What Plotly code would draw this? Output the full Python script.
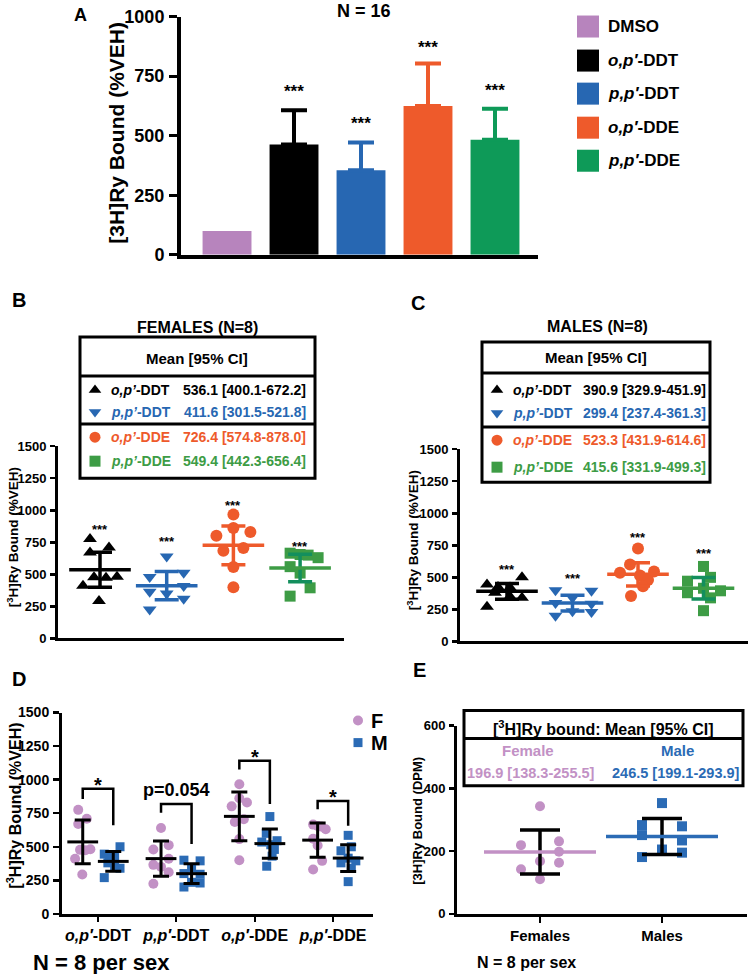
import plotly.graph_objects as go

W, H = 751, 974
FONT = "Liberation Sans, Arial, sans-serif"

# the page is photographed with a slight vertical squeeze; positions below are
# given in reference pixels and mapped to paper fractions here
Y0, SY = 10.5, 0.978


def fx(px):
    return px / W


def fy(py):
    return 1 - ((py - Y0) / SY) / H


# ---------------- colours ----------------
C_DMSO = "#b784bd"
C_BLACK = "#000000"
C_BLUE = "#2767b2"
C_ORANGE = "#ee5a2b"
C_GREEN = "#0e9a58"
C_GREEN2 = "#3d9c45"
C_TEAL = "#138f5d"
C_LAV = "#c291c5"
C_MBLUE = "#2b6bb5"

# ---------------- data ----------------
# Panel A (N = 16)
a_labels = ["DMSO", "<i>o,p′</i>-DDT", "<i>p,p′</i>-DDT", "<i>o,p′</i>-DDE", "<i>p,p′</i>-DDE"]
a_mean = [100, 463.5, 355.5, 624.9, 482.5]
a_sd = [0, 143, 116, 178, 131]
a_star_y = [None, 697, 563, 882, 702]

# compounds
cmp_labels = ["<i>o,p’</i>-DDT", "<i>p,p’</i>-DDT", "<i>o,p’</i>-DDE", "<i>p,p’</i>-DDE"]
cmp_ticks = ["<i>o,p′</i>-DDT", "<i>p,p′</i>-DDT", "<i>o,p′</i>-DDE", "<i>p,p′</i>-DDE"]

# Females (N = 8)
fem_opDDT = [775, 709, 670, 477, 474, 482, 411, 293]
fem_ppDDT = [640, 480, 512, 410, 365, 350, 310, 225]
fem_opDDE = [966, 861, 801, 830, 685, 705, 557, 400]
fem_ppDDE = [665, 655, 650, 630, 560, 510, 395, 330]
fem_mean = [536.1, 411.6, 726.4, 549.4]
fem_lo = [400.1, 301.5, 574.8, 442.3]
fem_hi = [672.2, 521.8, 878.0, 656.4]
fem_sd = [163, 132, 181, 128]
fem_star_y = [871, 777, 1062, 743]

# Males (N = 8)
male_opDDT = [445, 425, 420, 500, 380, 350, 340, 270]
male_ppDDT = [400, 395, 340, 300, 295, 235, 230, 200]
male_opDDE = [725, 600, 535, 545, 515, 480, 430, 355]
male_ppDDE = [585, 500, 470, 415, 395, 380, 340, 240]
male_mean = [390.9, 299.4, 523.3, 415.6]
male_lo = [329.9, 237.4, 431.9, 331.9]
male_hi = [451.9, 361.3, 614.6, 499.3]
male_sd = [73, 74, 109, 100]
male_star_y = [584, 518, 834, 708]

# Panel D brackets
d_br_top = [933, 818, 1141, 840]
d_br_left = [856, 754, 1076, 780]
d_br_right = [660, 520, 818, 656]
d_sig = ["*", "p=0.054", "*", "*"]

# Panel E (DPM)
e_groups = ["Females", "Males"]
e_female = [343, 219, 231, 198, 168, 142, 163, 110]
e_male = [353, 283, 279, 251, 234, 205, 181, 195]
e_mean = [196.9, 246.5]
e_lo = [138.3, 199.1]
e_hi = [255.5, 293.9]
e_sd = [70, 57]

# horizontal scatter of points (pixels, as laid out in the figure)
fem_jit = [[-10, 9, -10, -6, 6, 17, -17, -1],
           [0, -17, 17, 17, -17, 0, 17, -17],
           [0, 0, -17, 17, -10, 10, 0, 0],
           [-10, 0, 8, 18, -10, 0, 10, -10]]
male_jit = [[-20, -9, 3, 15, -12, 3, 15, -20],
            [-17, 19, 0, -17, 19, 0, 19, -17],
            [0, -8, -18, 16, 2, 10, 5, -7],
            [0, 7, -16, 0, 17, -16, 7, 0]]
e_jit = [[0, -19, 19, 19, 0, -19, 19, 0],
         [0, -20, 20, -20, 20, 0, -20, 20]]

fem_groups = [fem_opDDT, fem_ppDDT, fem_opDDE, fem_ppDDE]
male_groups = [male_opDDT, male_ppDDT, male_opDDE, male_ppDDE]

fig = go.Figure()

# ---------------- Panel A ----------------
a_colors = [C_DMSO, C_BLACK, C_BLUE, C_ORANGE, C_GREEN]
for i in range(5):
    fig.add_trace(go.Bar(
        x=[i], y=[a_mean[i]], width=0.73,
        marker=dict(color=a_colors[i], line=dict(width=0)),
        error_y=dict(type="data", symmetric=False, array=[a_sd[i]], arrayminus=[0],
                     thickness=4, width=13, color=a_colors[i], visible=a_sd[i] > 0),
        xaxis="x", yaxis="y", showlegend=False, hoverinfo="skip"))

# ---------------- Panels B & C ----------------
symbols = ["triangle-up", "triangle-down", "circle", "square"]
sizes = [12, 12, 12, 11]
bc_colors = [C_BLACK, C_BLUE, C_ORANGE, C_GREEN2]
err_colors = [C_BLACK, C_BLUE, C_ORANGE, C_TEAL]


def dot_panel(groups, jits, means, los, his, xa, ya, spacing):
    for i, (vals, jit) in enumerate(zip(groups, jits)):
        fig.add_trace(go.Scatter(
            x=[i + j / spacing for j in jit], y=vals, mode="markers",
            marker=dict(symbol=symbols[i], size=sizes[i], color=bc_colors[i], line=dict(width=0)),
            xaxis=xa, yaxis=ya, showlegend=False, hoverinfo="skip", cliponaxis=False))
    for i in range(4):
        fig.add_trace(go.Scatter(
            x=[i], y=[means[i]], mode="markers",
            marker=dict(symbol="line-ew", size=44, color=bc_colors[i],
                        line=dict(width=3.5, color=bc_colors[i])),
            error_y=dict(type="data", symmetric=False, array=[his[i] - means[i]],
                         arrayminus=[means[i] - los[i]], width=12, thickness=3.5, color=err_colors[i]),
            xaxis=xa, yaxis=ya, showlegend=False, hoverinfo="skip", cliponaxis=False))


dot_panel(fem_groups, fem_jit, fem_mean, fem_lo, fem_hi, "x2", "y2", 66.7)
dot_panel(male_groups, male_jit, male_mean, male_lo, male_hi, "x3", "y3", 65.5)

# ---------------- Panel D ----------------
D_SP = 78.3
D_OFF = 0.195
for i in range(4):
    fig.add_trace(go.Scatter(
        x=[i - D_OFF + 0.45 * j / D_SP for j in fem_jit[i]], y=fem_groups[i], mode="markers",
        marker=dict(symbol="circle", size=10, color=C_LAV, line=dict(width=0)),
        xaxis="x4", yaxis="y4", showlegend=False, hoverinfo="skip", cliponaxis=False))
    fig.add_trace(go.Scatter(
        x=[i + D_OFF + 0.45 * j / D_SP for j in male_jit[i]], y=male_groups[i], mode="markers",
        marker=dict(symbol="square", size=9, color=C_MBLUE, line=dict(width=0)),
        xaxis="x4", yaxis="y4", showlegend=False, hoverinfo="skip", cliponaxis=False))
for i in range(4):
    for off, m, sd in ((-D_OFF, fem_mean[i], fem_sd[i]), (D_OFF, male_mean[i], male_sd[i])):
        fig.add_trace(go.Scatter(
            x=[i + off], y=[m], mode="markers",
            marker=dict(symbol="line-ew", size=22, color="black", line=dict(width=3, color="black")),
            error_y=dict(type="data", array=[sd], width=8, thickness=3, color="black"),
            xaxis="x4", yaxis="y4", showlegend=False, hoverinfo="skip", cliponaxis=False))

# ---------------- Panel E ----------------
E_SP = 122
e_pts = [e_female, e_male]
e_sym = ["circle", "square"]
e_col = [C_LAV, C_MBLUE]
for g in range(2):
    fig.add_trace(go.Scatter(
        x=[g + j / E_SP for j in e_jit[g]], y=e_pts[g], mode="markers",
        marker=dict(symbol=e_sym[g], size=10, color=e_col[g], line=dict(width=0)),
        xaxis="x5", yaxis="y5", showlegend=False, hoverinfo="skip", cliponaxis=False))
for g in range(2):
    fig.add_trace(go.Scatter(
        x=[g], y=[e_mean[g]], mode="markers",
        marker=dict(symbol="line-ew", size=80, color=e_col[g], line=dict(width=3.5, color=e_col[g])),
        error_y=dict(type="data", array=[e_sd[g]], width=20, thickness=3.5, color="black"),
        xaxis="x5", yaxis="y5", showlegend=False, hoverinfo="skip", cliponaxis=False))

# ---------------- overlay (legend swatches, table markers) ----------------
def oy(py):
    return (py - Y0) / SY


leg_y = [27, 61, 94, 128, 161]
fig.add_trace(go.Scatter(x=[588] * 5, y=[oy(v) for v in leg_y], mode="markers",
                         marker=dict(symbol="square", size=22, color=a_colors, line=dict(width=0)),
                         xaxis="x6", yaxis="y6", showlegend=False, hoverinfo="skip", cliponaxis=False))
b_rows = [390, 412, 437, 461]
c_rows = [390, 413, 440, 467]
for rows, mx in ((b_rows, 95), (c_rows, 497)):
    for i in range(4):
        fig.add_trace(go.Scatter(x=[mx], y=[oy(rows[i])], mode="markers",
                                 marker=dict(symbol=symbols[i], size=11, color=bc_colors[i],
                                             line=dict(width=0)),
                                 xaxis="x6", yaxis="y6", showlegend=False, hoverinfo="skip", cliponaxis=False))
fig.add_trace(go.Scatter(x=[358], y=[oy(720)], mode="markers",
                         marker=dict(symbol="circle", size=10, color=C_LAV, line=dict(width=0)),
                         xaxis="x6", yaxis="y6", showlegend=False, hoverinfo="skip", cliponaxis=False))
fig.add_trace(go.Scatter(x=[358], y=[oy(742)], mode="markers",
                         marker=dict(symbol="square", size=9, color=C_MBLUE, line=dict(width=0)),
                         xaxis="x6", yaxis="y6", showlegend=False, hoverinfo="skip", cliponaxis=False))

# ---------------- annotations ----------------
ann = []


def txt(x, y, text, size, color="black", xanchor="center", angle=0, bold=True):
    ann.append(dict(x=fx(x), y=fy(y), xref="paper", yref="paper", text=("<b>%s</b>" % text) if bold else text,
                    showarrow=False, xanchor=xanchor, yanchor="middle", textangle=angle,
                    font=dict(size=size, color=color, family=FONT)))


# panel letters
txt(80, 15, "A", 18)
txt(19, 300, "B", 20)
txt(418, 303, "C", 20)
txt(19, 678, "D", 20)
txt(419, 670, "E", 20)

# A
txt(364, 11, "N = 16", 18)
txt(117, 133, "[3H]Ry Bound (%VEH)", 21, angle=-90)
for i, lab in enumerate(a_labels):
    txt(606, leg_y[i], lab, 17, xanchor="left")
for i in range(5):
    if a_star_y[i] is not None:
        ann.append(dict(x=i, y=a_star_y[i], xref="x", yref="y", text="<b>***</b>", showarrow=False,
                        yanchor="middle", yshift=-3, font=dict(size=17, family=FONT, color="black")))

# B / C titles and tables
txt(197, 328, "FEMALES (N=8)", 16)
txt(597, 327, "MALES (N=8)", 16)
txt(13, 537, "[<sup>3</sup>H]Ry Bound (%VEH)", 13.5, angle=-90)
txt(413, 540, "[<sup>3</sup>H]Ry Bound (%VEH)", 13.5, angle=-90)
txt(197, 358, "Mean [95% CI]", 15)
txt(596, 357, "Mean [95% CI]", 15)
tbl_colors = [C_BLACK, C_BLUE, C_ORANGE, C_GREEN2]
for rows, lx, rx, means, los, his in ((b_rows, 109, 308, fem_mean, fem_lo, fem_hi),
                                      (c_rows, 511, 708, male_mean, male_lo, male_hi)):
    for i in range(4):
        txt(lx, rows[i], cmp_labels[i], 14, color=tbl_colors[i], xanchor="left")
        txt(rx, rows[i], "%.1f [%.1f-%.1f]" % (means[i], los[i], his[i]), 14, color=tbl_colors[i],
            xanchor="right")

for xa, ya, stars in (("x2", "y2", fem_star_y), ("x3", "y3", male_star_y)):
    for i in range(4):
        ann.append(dict(x=i, y=stars[i], xref=xa, yref=ya, text="<b>***</b>", showarrow=False,
                        yanchor="middle", yshift=-3, font=dict(size=13, family=FONT, color="black")))

# D
txt(14, 805, "[<sup>3</sup>H]Ry Bound (%VEH)", 16, angle=-90)
txt(369, 720, "F", 20, xanchor="left")
txt(369, 742, "M", 20, xanchor="left")
txt(101, 962, "N = 8 per sex", 22)
for i in range(4):
    if d_sig[i] == "*":
        ann.append(dict(x=i, y=d_br_top[i], xref="x4", yref="y4", text="<b>*</b>", showarrow=False,
                        yanchor="bottom", yshift=-9, font=dict(size=20, family=FONT, color="black")))
    else:
        ann.append(dict(x=i, y=d_br_top[i], xref="x4", yref="y4", text="<b>%s</b>" % d_sig[i], showarrow=False,
                        yanchor="bottom", yshift=2, font=dict(size=18, family=FONT, color="black")))

# E
txt(418, 820, "[3H]Ry Bound (DPM)", 13, angle=-90)
txt(603, 727, "[<sup>3</sup>H]Ry bound: Mean [95% CI]", 16)
txt(528, 750, "Female", 15, color=C_LAV)
txt(677, 750, "Male", 15, color=C_MBLUE)
txt(531, 772, "%.1f [%.1f-%.1f]" % (e_mean[0], e_lo[0], e_hi[0]), 14.5, color=C_LAV)
txt(676, 772, "%.1f [%.1f-%.1f]" % (e_mean[1], e_lo[1], e_hi[1]), 14.5, color=C_MBLUE)
txt(526, 962, "N = 8 per sex", 16)

# ---------------- shapes (tables, brackets) ----------------
shapes = []


def rect(x0, y0, x1, y1):
    shapes.append(dict(type="rect", xref="paper", yref="paper", x0=fx(x0), x1=fx(x1), y0=fy(y1), y1=fy(y0),
                       line=dict(color="black", width=3), fillcolor="rgba(0,0,0,0)"))


def hline(x0, x1, y):
    shapes.append(dict(type="line", xref="paper", yref="paper", x0=fx(x0), x1=fx(x1), y0=fy(y), y1=fy(y),
                       line=dict(color="black", width=3)))


rect(80, 337, 315, 478)
hline(80, 315, 376)
hline(80, 315, 424)
rect(482, 342, 710, 482)
hline(482, 710, 373)
hline(482, 710, 427)
rect(464, 710, 743, 785)
hline(464, 743, 738)

for i in range(4):
    xl, xr = i - D_OFF, i + D_OFF
    shapes.append(dict(type="path", xref="x4", yref="y4",
                       path="M %f,%f L %f,%f L %f,%f L %f,%f" % (xl, d_br_left[i], xl, d_br_top[i],
                                                                 xr, d_br_top[i], xr, d_br_right[i]),
                       line=dict(color="black", width=2.5)))

# ---------------- axes ----------------
bold = dict(family=FONT, color="black", weight="bold")


def yax(dom, rng, tickvals, size, lw, tl, tw):
    return dict(domain=[fy(dom[0]), fy(dom[1])], range=rng, tickvals=tickvals, ticks="outside", ticklen=tl,
                tickwidth=tw, tickcolor="black", showline=True, linewidth=lw, linecolor="black",
                showgrid=False, zeroline=False, tickfont=dict(size=size, **bold), ticklabelstandoff=1)


def xax(dom, rng, lw, **kw):
    d = dict(domain=[fx(dom[0]), fx(dom[1])], range=rng, showline=True, linewidth=lw, linecolor="black",
             showgrid=False, zeroline=False, showticklabels=False, ticks="")
    d.update(kw)
    return d


layout = dict(
    width=W, height=H, autosize=False, margin=dict(l=0, r=0, t=0, b=0),
    paper_bgcolor="white", plot_bgcolor="rgba(0,0,0,0)", showlegend=False,
    font=dict(family=FONT, color="black"),
    xaxis=xax((181, 538), [-0.687, 4.642], 4, anchor="y"),
    yaxis=yax((255, 17), [0, 1000], [0, 250, 500, 750, 1000], 18, 4, 8, 3) | dict(anchor="x"),
    xaxis2=xax((58, 344), [(58 - 100) / 66.7, (344 - 100) / 66.7], 3, anchor="y2"),
    yaxis2=yax((638, 446), [0, 1500], [0, 250, 500, 750, 1000, 1250, 1500], 13, 3, 5, 2.5) | dict(anchor="x2"),
    xaxis3=xax((460, 748), [(460 - 507) / 65.5, (748 - 507) / 65.5], 3, anchor="y3"),
    yaxis3=yax((641, 449), [0, 1500], [0, 250, 500, 750, 1000, 1250, 1500], 13, 3, 5, 2.5) | dict(anchor="x3"),
    xaxis4=xax((62, 373), [(62 - 98) / D_SP, (373 - 98) / D_SP], 3, anchor="y4", showticklabels=True,
               ticks="outside", ticklen=5, tickwidth=2, tickcolor="black", tickvals=[0, 1, 2, 3],
               ticktext=cmp_ticks, tickfont=dict(size=16, **bold), ticklabelstandoff=0),
    yaxis4=yax((913, 712), [0, 1500], [0, 250, 500, 750, 1000, 1250, 1500], 14, 3, 6, 2.5) | dict(anchor="x4"),
    xaxis5=xax((457, 747), [(457 - 540) / E_SP, (747 - 540) / E_SP], 3, anchor="y5", showticklabels=True,
               ticks="outside", ticklen=6, tickwidth=2, tickcolor="black", tickvals=[0, 1],
               ticktext=e_groups, tickfont=dict(size=15, **bold)),
    yaxis5=yax((913, 725), [0, 600], [0, 200, 400, 600], 13, 3, 5, 2.5) | dict(anchor="x5"),
    xaxis6=dict(domain=[0, 1], range=[0, W], visible=False, anchor="y6", fixedrange=True),
    yaxis6=dict(domain=[0, 1], range=[H, 0], visible=False, anchor="x6", fixedrange=True),
    annotations=ann, shapes=shapes,
)
fig.update_layout(**layout)
fig.write_html("out.html", config={"displayModeBar": False, "staticPlot": True},
               post_script="document.body.style.margin='0';document.body.style.overflow='hidden';")
